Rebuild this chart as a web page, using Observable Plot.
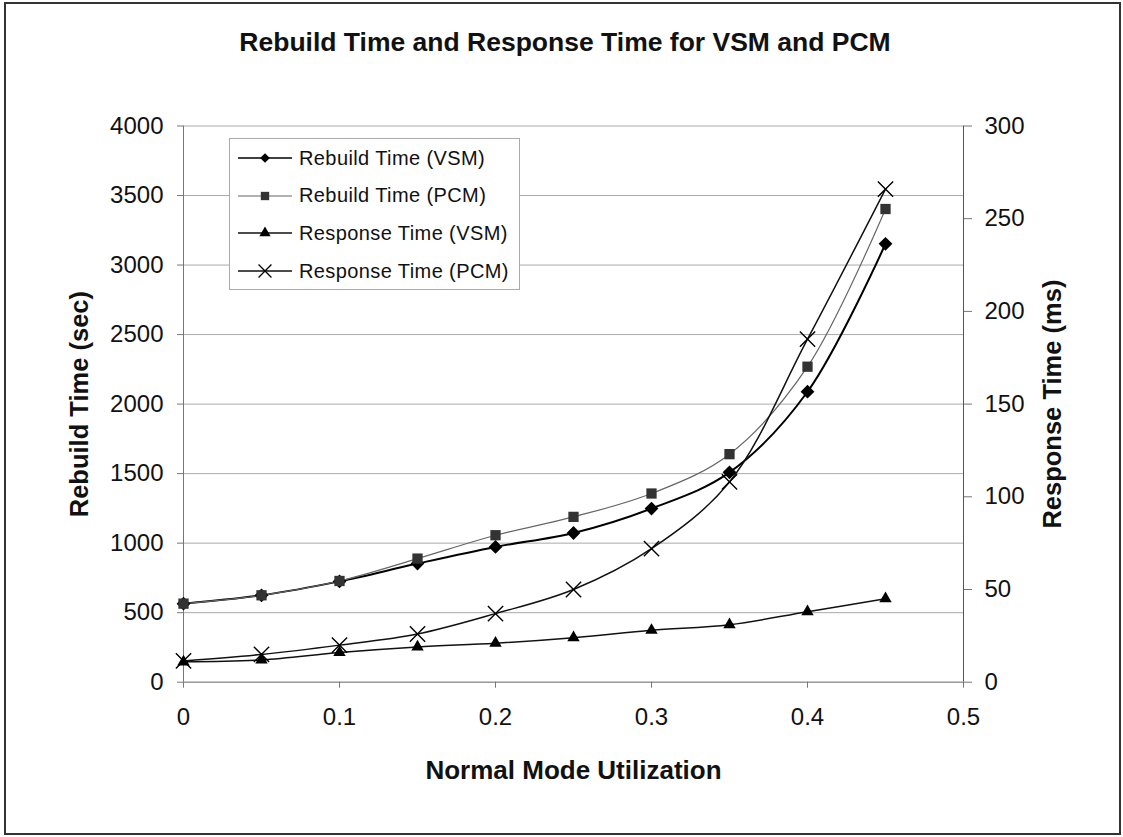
<!DOCTYPE html>
<html>
<head>
<meta charset="utf-8">
<script src="https://cdn.jsdelivr.net/npm/d3@7"></script>
<script src="https://cdn.jsdelivr.net/npm/@observablehq/plot@0.6"></script>
<style>
  body { margin: 0; background: #fff; font-family: "Liberation Sans", Arial, sans-serif; }
  #wrap { position: relative; width: 1123px; height: 837px; overflow: hidden; background: #fff; }
  #frame { position: absolute; left: 4px; top: 2px; width: 1113px; height: 829px; border: 2px solid #333; }
  #title { position: absolute; left: 0; top: 26px; width: 1130px; text-align: center; font-weight: bold; font-size: 26.5px; line-height: 32px; color: #111; }
  #chart { position: absolute; left: 0; top: 80px; }
  #legend { position: absolute; left: 229px; top: 138px; width: 289px; height: 150px; border: 1px solid #aaa; background: #fff; }
  .row { position: absolute; left: 6px; height: 30px; display: flex; align-items: center; font-size: 20px; color: #111; letter-spacing: 0.4px; }
  .row svg { margin-right: 7px; }
</style>
</head>
<body>
<div id="wrap">
  <div id="frame"></div>
  <div id="title">Rebuild Time and Response Time for VSM and PCM</div>
  <div id="chart"></div>
  <div id="legend"></div>
</div>
<script>
// ---- data ----
const utilization = [0, 0.05, 0.1, 0.15, 0.2, 0.25, 0.3, 0.35, 0.4, 0.45];
const rebuildVSM = [565, 625, 725, 853, 973, 1073, 1249, 1509, 2089, 3153];   // sec
const rebuildPCM = [565, 625, 728, 889, 1057, 1189, 1357, 1640, 2269, 3403];  // sec
const responseVSM = [11, 12, 16, 19, 21, 24, 28, 31, 38, 45];                  // ms
const responsePCM = [11.5, 15, 20, 26, 37, 50, 72, 108, 185, 266];             // ms
const seriesNames = ["Rebuild Time (VSM)", "Rebuild Time (PCM)", "Response Time (VSM)", "Response Time (PCM)"];
const leftTicks = [0, 500, 1000, 1500, 2000, 2500, 3000, 3500, 4000];
const rightTicks = [0, 50, 100, 150, 200, 250, 300];
const xTicks = [0, 0.1, 0.2, 0.3, 0.4, 0.5];
const xTitle = "Normal Mode Utilization";
const yLeftTitle = "Rebuild Time (sec)";
const yRightTitle = "Response Time (ms)";

// right axis (ms) mapped onto left scale (sec)
const k = 4000 / 300;

const styles = [
  {stroke: "#000", strokeWidth: 2, symbol: "diamond2", fill: "#000", r: 6.2, legendSize: 60},
  {stroke: "#666", strokeWidth: 1.2, symbol: "square", fill: "#333", r: 5.8, legendSize: 70},
  {stroke: "#111", strokeWidth: 1.5, symbol: "triangle", fill: "#000", r: 4.6, legendSize: 55},
  {stroke: "#111", strokeWidth: 1.5, symbol: "times", fill: "none", r: 7, legendSize: 110}
];
const values = [rebuildVSM, rebuildPCM, responseVSM.map(v => v * k), responsePCM.map(v => v * k)];

const rows = seriesNames.map((name, i) => utilization.map((u, j) => ({series: name, x: u, y: values[i][j]})));

const marks = [
  Plot.gridY(leftTicks, {stroke: "#aaa", strokeOpacity: 1}),
  Plot.ruleX([0], {stroke: "#777"}),
  Plot.ruleX([0.5], {stroke: "#555"}),
  Plot.ruleY([0], {stroke: "#888"}),
  Plot.axisY({ticks: leftTicks, anchor: "left", tickSize: 6, tickPadding: 14, fontSize: 24, label: null, stroke: "#777",
              tickFormat: d => String(d)}),
  Plot.axisY({ticks: rightTicks.map(v => v * k), anchor: "right", tickSize: 8, tickPadding: 13, fontSize: 24, label: null, stroke: "#777",
              tickFormat: d => String(Math.round(d / k))}),
  Plot.axisX({ticks: xTicks, tickSize: 6, tickPadding: 20, fontSize: 24, label: null, stroke: "#777",
              tickFormat: d => String(d)}),
  Plot.text([xTitle], {frameAnchor: "bottom", dy: 88, lineAnchor: "middle", textAnchor: "middle", fontSize: 26, fontWeight: "bold", fill: "#111"}),
  Plot.text([yLeftTitle], {frameAnchor: "left", dx: -104, rotate: -90, textAnchor: "middle", lineAnchor: "middle", fontSize: 25.5, fontWeight: "bold", fill: "#111"}),
  Plot.text([yRightTitle], {frameAnchor: "right", dx: 89, rotate: -90, textAnchor: "middle", lineAnchor: "middle", fontSize: 25.5, fontWeight: "bold", fill: "#111"})
];
rows.forEach((data, i) => {
  const s = styles[i];
  marks.push(Plot.line(data, {x: "x", y: "y", stroke: s.stroke, strokeWidth: s.strokeWidth, curve: "catmull-rom"}));
});
rows.forEach((data, i) => {
  const s = styles[i];
  marks.push(Plot.dot(data, {x: "x", y: "y", symbol: s.symbol, r: s.r,
    fill: s.fill, stroke: s.symbol === "times" ? "#000" : "none", strokeWidth: 1.4}));
});

const chart = Plot.plot({
  width: 1123,
  height: 757,
  marginLeft: 183,
  marginRight: 160,
  marginTop: 45.5,
  marginBottom: 155.3,
  x: {domain: [0, 0.5]},
  y: {domain: [0, 4000]},
  style: {fontFamily: "Liberation Sans, Arial, sans-serif", fontSize: "24px", background: "transparent", color: "#111"},
  marks
});
document.getElementById("chart").appendChild(chart);

// legend
const legend = document.getElementById("legend");
const symMap = {diamond2: d3.symbolDiamond2, square: d3.symbolSquare, triangle: d3.symbolTriangle, times: d3.symbolTimes};
seriesNames.forEach((name, i) => {
  const s = styles[i];
  const row = document.createElement("div");
  row.className = "row";
  row.style.top = (4 + i * 37.7) + "px";
  const path = d3.symbol(symMap[s.symbol], s.legendSize)();
  row.innerHTML = `<svg width="56" height="20" viewBox="0 0 56 20">
    <line x1="2" y1="10" x2="56" y2="10" stroke="${s.stroke}" stroke-width="${Math.min(s.strokeWidth,1.5)}"/>
    <path d="${path}" transform="translate(29,10)" fill="${s.fill}" stroke="${s.symbol === 'times' ? '#000' : 'none'}" stroke-width="1.3"/>
  </svg><span>${name}</span>`;
  legend.appendChild(row);
});
</script>
</body>
</html>
